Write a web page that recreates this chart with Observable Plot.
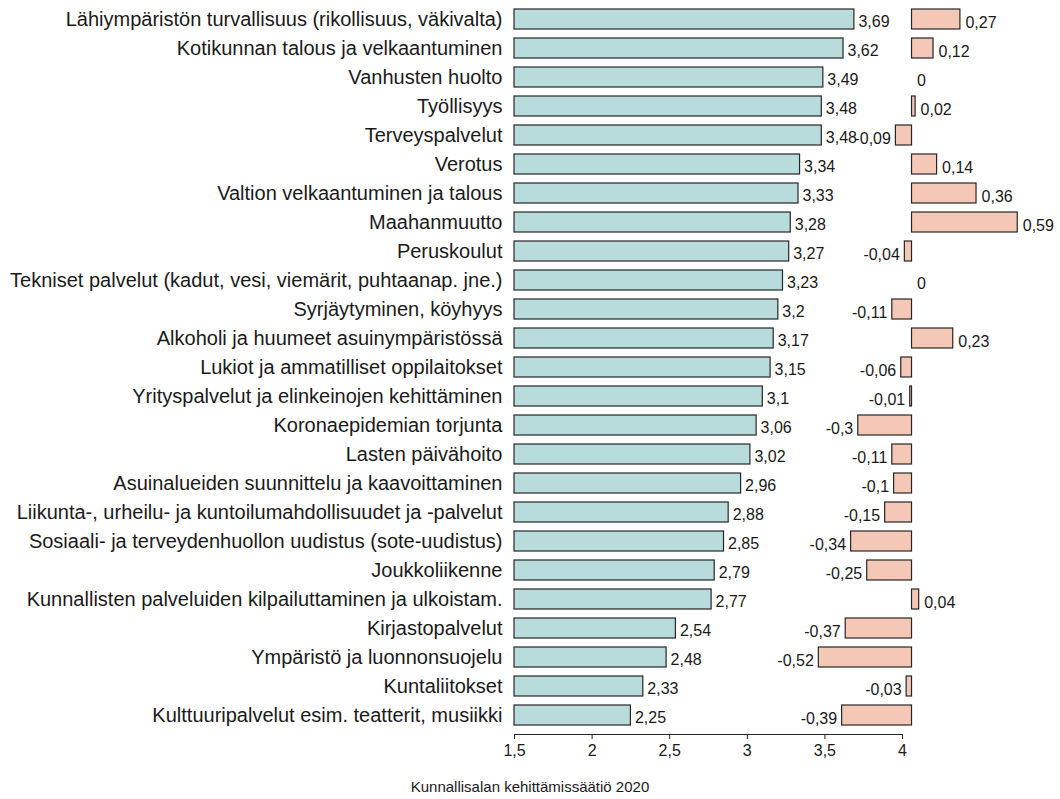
<!DOCTYPE html>
<html>
<head>
<meta charset="utf-8">
<script src="https://cdn.jsdelivr.net/npm/d3@7"></script>
<script src="https://cdn.jsdelivr.net/npm/@observablehq/plot@0.6"></script>
<style>
  html, body { margin: 0; padding: 0; background: #fff; }
  #wrap { position: relative; width: 1060px; height: 770px; }
  #wrap svg { position: absolute; left: 0; top: 0; }
  #caption { width: 1060px; text-align: center; font-family: "Liberation Sans", Arial, sans-serif;
             font-size: 15px; color: #1a1a1a; margin-top: 7px; line-height: 20px; }
</style>
</head>
<body>
<div id="wrap"></div>
<div id="caption">Kunnallisalan kehittämissäätiö 2020</div>
<script>
const categories = [
  "Lähiympäristön turvallisuus (rikollisuus, väkivalta)",
  "Kotikunnan talous ja velkaantuminen",
  "Vanhusten huolto",
  "Työllisyys",
  "Terveyspalvelut",
  "Verotus",
  "Valtion velkaantuminen ja talous",
  "Maahanmuutto",
  "Peruskoulut",
  "Tekniset palvelut (kadut, vesi, viemärit, puhtaanap. jne.)",
  "Syrjäytyminen, köyhyys",
  "Alkoholi ja huumeet asuinympäristössä",
  "Lukiot ja ammatilliset oppilaitokset",
  "Yrityspalvelut ja elinkeinojen kehittäminen",
  "Koronaepidemian torjunta",
  "Lasten päivähoito",
  "Asuinalueiden suunnittelu ja kaavoittaminen",
  "Liikunta-, urheilu- ja kuntoilumahdollisuudet ja -palvelut",
  "Sosiaali- ja terveydenhuollon uudistus (sote-uudistus)",
  "Joukkoliikenne",
  "Kunnallisten palveluiden kilpailuttaminen ja ulkoistam.",
  "Kirjastopalvelut",
  "Ympäristö ja luonnonsuojelu",
  "Kuntaliitokset",
  "Kulttuuripalvelut esim. teatterit, musiikki"
];
const scores = [3.69, 3.62, 3.49, 3.48, 3.48, 3.34, 3.33, 3.28, 3.27, 3.23, 3.2, 3.17, 3.15, 3.1, 3.06, 3.02, 2.96, 2.88, 2.85, 2.79, 2.77, 2.54, 2.48, 2.33, 2.25];
const changes = [0.27, 0.12, 0, 0.02, -0.09, 0.14, 0.36, 0.59, -0.04, 0, -0.11, 0.23, -0.06, -0.01, -0.3, -0.11, -0.1, -0.15, -0.34, -0.25, 0.04, -0.37, -0.52, -0.03, -0.39];
const xTicks = [1.5, 2, 2.5, 3, 3.5, 4];
const caption = "Kunnallisalan kehittämissäätiö 2020";

const rows = categories.map((name, i) => ({name, score: scores[i], change: changes[i]}));
const fmt = v => String(v).replace(".", ",");
const font = "'Liberation Sans', Arial, Helvetica, sans-serif";
const W = 1060, H = 770, MT = 0, MB = 36;
const yScale = {domain: categories, padding: 0.31};
const mainFill = "#b8dbdc", diffFill = "#f5c7b7", edge = "#262626", ink = "#1a1a1a";

const main = Plot.plot({
  width: W, height: H, marginTop: MT, marginBottom: MB, marginLeft: 514, marginRight: 158,
  style: {fontFamily: font, color: ink, background: "transparent", overflow: "visible"},
  x: {domain: [xTicks[0], xTicks[xTicks.length - 1]]},
  y: yScale,
  marks: [
    Plot.barX(rows, {x1: xTicks[0], x2: "score", y: "name", fill: mainFill, stroke: edge, strokeWidth: 1.2}),
    Plot.text(rows, {x: "score", y: "name", text: d => fmt(d.score), textAnchor: "start", dx: 4, dy: 2, fontSize: 16, fill: ink}),
    Plot.frame({anchor: "bottom", stroke: edge, strokeWidth: 1.2}),
    Plot.axisX({ticks: xTicks, tickFormat: fmt, tickSize: 5, tickPadding: 5, fontSize: 16, label: null, stroke: edge}),
    Plot.axisY({tickSize: 0, tickPadding: 12, fontSize: 20, label: null})
  ]
});

const diff = Plot.plot({
  width: W, height: H, marginTop: MT, marginBottom: MB, marginLeft: 804, marginRight: 32,
  style: {fontFamily: font, color: ink, background: "transparent", overflow: "visible"},
  x: {domain: [-0.6, 0.65], axis: null},
  y: {...yScale, axis: null},
  marks: [
    Plot.barX(rows.filter(d => d.change !== 0), {x1: 0, x2: "change", y: "name", fill: diffFill, stroke: edge, strokeWidth: 1.2}),
    Plot.text(rows.filter(d => d.change >= 0), {x: "change", y: "name", text: d => fmt(d.change), textAnchor: "start", dx: 5, dy: 3, fontSize: 16, fill: ink}),
    Plot.text(rows.filter(d => d.change < 0), {x: "change", y: "name", text: d => fmt(d.change), textAnchor: "end", dx: -5, dy: 3, fontSize: 16, fill: ink})
  ]
});

const wrap = document.getElementById("wrap");
wrap.appendChild(main);
wrap.appendChild(diff);
document.getElementById("caption").textContent = caption;
</script>
</body>
</html>
